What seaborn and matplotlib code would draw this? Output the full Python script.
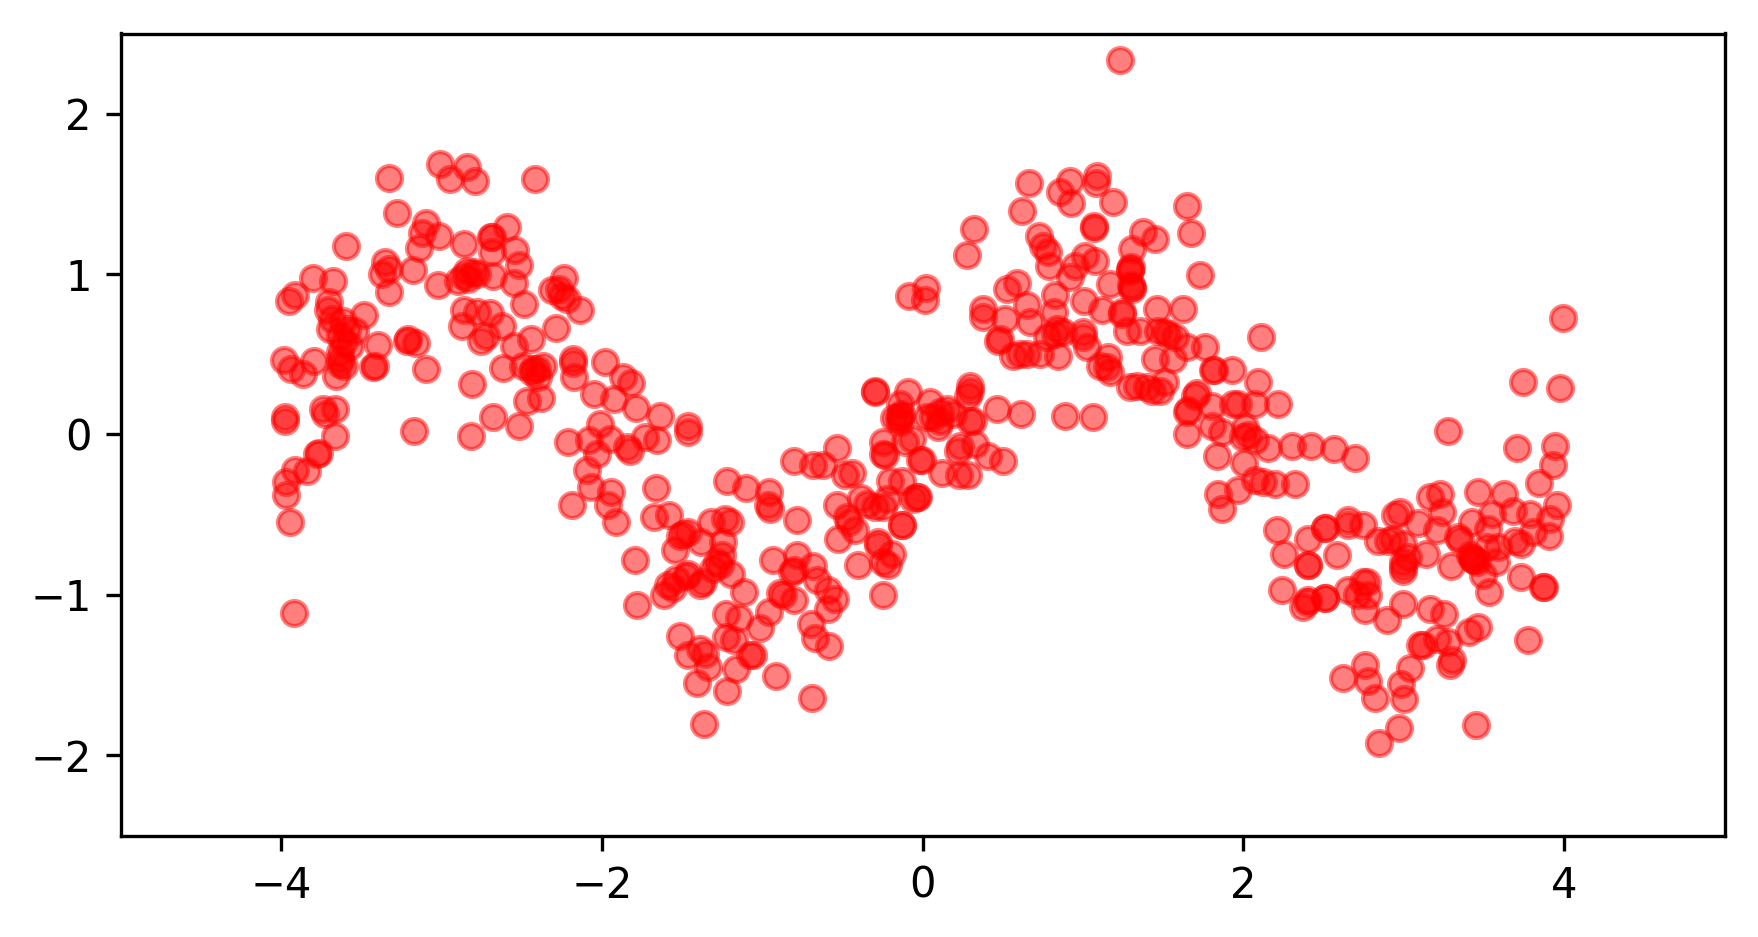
"""
plot.py
Noisy sine scatter, values read off the reference picture.
"""

import matplotlib
matplotlib.use("Agg")
import matplotlib.pyplot as plt
import numpy as np
import seaborn as sns

LEFT_X = [
    -3.33, -3.01, -2.84, -2.95, -2.79, -2.42, -3.276, -3.10, -3.124, -3.014, -3.139, -2.86, -2.59, -2.688, -2.694,
    -2.542, -2.684, -2.515, -3.594, -3.353, -3.326, -3.374, -3.326, -3.176, -3.022, -2.896, -2.864, -2.833, -2.80,
    -2.844, -2.78, -2.678, -2.55, -2.485, -2.235, -2.314, -2.27, -2.25, -2.22, -2.138, -2.288, -2.86, -2.782, -2.70,
    -2.875, -2.626, -2.724, -2.757, -2.445, -2.547, -3.80, -3.675, -3.955, -3.914, -3.70, -3.71, -3.482, -3.685,
    -3.696, -3.613, -3.592, -3.54, -3.633, -3.612, -3.571, -3.395, -3.208, -3.218, -3.16, -3.982, -3.941, -3.862,
    -3.796, -3.633, -3.633, -3.633, -3.612, -3.658, -3.415, -3.426, -3.096, -2.811, -2.616, -2.49, -2.439, -2.408,
    -2.367, -2.398, -2.43, -2.179, -2.184, -2.176, -1.982, -1.868, -1.822, -2.05, -1.926, -1.789, -1.64, -1.463,
    -1.463, -2.47, -2.383, -2.677, -2.52, -2.82, -3.172, -3.743, -3.727, -3.664, -3.664, -3.976, -3.976, -3.768,
    -3.775, -3.914, -3.841, -3.97, -3.97, -3.949, -3.918, -2.012, -2.21, -2.079, -1.95, -1.846, -1.825, -1.732,
    -1.655, -2.029, -2.096, -2.07, -1.947, -1.96, -1.914, -2.186, -1.665, -1.677, -1.582, -1.494, -1.463, -1.515,
    -1.546, -1.38, -1.318, -1.796, -1.785, -1.615, -1.557, -1.588, -1.536, -1.474, -1.37, -1.39,
]
LEFT_Y = [
    1.60, 1.685, 1.665, 1.596, 1.58, 1.59, 1.38, 1.32, 1.254, 1.239, 1.16, 1.187, 1.295, 1.229, 1.233,
    1.15, 1.135, 1.056, 1.175, 1.077, 1.032, 1.0, 0.89, 1.025, 0.932, 0.959, 0.99, 0.969, 1.01,
    1.02, 1.0, 0.99, 0.944, 0.813, 0.973, 0.90, 0.907, 0.866, 0.845, 0.778, 0.664, 0.778, 0.762, 0.757,
    0.679, 0.679, 0.616, 0.585, 0.596, 0.554, 0.973, 0.959, 0.834, 0.87, 0.824, 0.778, 0.747, 0.72,
    0.658, 0.71, 0.658, 0.648, 0.616, 0.575, 0.554, 0.558, 0.596, 0.581, 0.568, 0.467, 0.41, 0.377,
    0.46, 0.513, 0.471, 0.44, 0.43, 0.367, 0.43, 0.423, 0.408, 0.315, 0.415, 0.43, 0.388, 0.41,
    0.43, 0.357, 0.41, 0.471, 0.446, 0.357, 0.454, 0.357, 0.32, 0.25, 0.222, 0.164, 0.118, 0.052,
    0.015, 0.207, 0.226, 0.108, 0.052, -0.01, 0.023, 0.156, 0.129, 0.156, -0.01, 0.108, 0.087, -0.114,
    -0.12, -0.224, -0.23, -0.297, -0.38, -0.546, -1.113, 0.066, -0.044, -0.037, -0.027, -0.079, -0.10, -0.017,
    -0.033, -0.12, -0.22, -0.328, -0.359, -0.438, -0.546, -0.438, -0.332, -0.515, -0.50, -0.618, -0.608, -0.63,
    -0.722, -0.67, -0.546, -0.78, -1.06, -1.0, -0.96, -0.94, -0.90, -0.88, -0.92, -0.94,
]

TROUGH_X = [
    -1.232, -1.205, -1.243, -1.253, -1.284, -1.263, -1.305, -1.195, -1.467, -1.114, -1.222,
    -1.101, -0.956, -0.962, -0.952, -0.785, -1.228, -1.149, -0.956, -1.018, -1.226, -1.176, -1.513, -1.388, -1.461,
    -1.357, -1.34, -1.164, -1.076, -1.056, -1.405, -1.218, -0.918, -0.688, -1.367, -0.935, -0.785, -0.806,
    -0.817, -0.682, -0.661, -0.588, -0.547, -0.588, -0.89, -0.869, -0.806, -0.696, -0.671, -0.582, -0.806, -0.686,
    -0.623, -0.532, -0.484, -0.443, -0.532, -0.384, -0.474, -0.463, -0.422, -0.53, -0.349, -0.297, -0.245, -0.224,
    -0.204, -0.131, -0.037, -0.058, -0.027, -0.131, -0.131, -0.276, -0.276, -0.193, -0.245, -0.214, -0.401, -0.245,
    -0.017, -0.006, -0.245, -0.245, -0.235, 0.119, 0.223, 0.285,
]
TROUGH_Y = [
    -0.525, -0.546, -0.67, -0.754, -0.795, -0.816, -0.836, -0.868, -0.868, -0.982, -0.293,
    -0.334, -0.36, -0.442, -0.463, -0.531, -1.117, -1.142, -1.106, -1.206, -1.264, -1.283, -1.258, -1.335, -1.372,
    -1.366, -1.449, -1.463, -1.376, -1.376, -1.548, -1.598, -1.505, -1.64, -1.802, -0.78, -0.753, -0.847,
    -0.857, -0.822, -0.909, -0.972, -1.023, -1.09, -0.99, -1.0, -1.03, -1.179, -1.268, -1.318, -0.166, -0.189,
    -0.193, -0.083, -0.251, -0.239, -0.442, -0.397, -0.515, -0.546, -0.598, -0.65, -0.432, -0.453, -0.453, -0.401,
    -0.287, -0.287, -0.39, -0.40, -0.39, -0.563, -0.563, -0.67, -0.691, -0.743, -0.795, -0.816, -0.812, -1.0,
    -0.158, -0.158, -0.048, -0.12, -0.13, -0.239, -0.251, -0.251,
]

PEAK_X = [
    1.232, 0.665, 0.919, 0.856, 0.925, 1.085, 1.081, 1.185, 0.621, 1.65, 1.673, 1.376, 1.449, 0.322, 0.276, 1.066,
    1.07, 0.725, 0.752, 0.783, 0.79, 1.303, 1.293, 1.29, 1.297, 1.303, 1.30, 1.308, 1.729, 1.012, 1.074, 0.95, 0.919,
    1.168, -0.085, 0.021, 0.015, 0.524, 0.586, 0.378, 0.378, 0.648, 0.669, 0.513, 0.825, 0.821, 1.008, 1.116, 1.241,
    1.241, 1.459, 1.621, 2.107, 0.482, 0.472, 0.565, 0.607, 0.648, 0.732, 0.846, 0.773, 0.835, 0.825, 0.877, 1.002,
    1.002, 1.023, 1.158, 1.106, 1.168, 1.147, 1.272, 1.355, 1.469, 1.511, 1.532, 1.573, 1.449, 1.563, 1.646, 1.76,
    1.812, 1.817, 1.926, 2.093, 2.217, 1.968, 1.937, 2.072, 1.708, 1.698, 1.293, 1.334, 1.428, 1.48, 1.511, 1.397,
    1.656, 1.646, 1.802, 1.646, 1.802, 1.864, 2.01, 2.0, 2.072, 2.03, 2.151, 2.30, 1.833, 2.005, 2.124, 2.072, 2.197,
    2.321, 1.843, 1.964, 1.868, -0.297, -0.30, -0.089, -0.141, -0.141, -0.135, -0.146, -0.141, -0.18, 0.046,
    0.108, 0.067, 0.15, 0.191, 0.108, 0.098, 0.025, 0.295, 0.285, 0.295, 0.461, 0.613, 0.887, 1.064, 0.295, 0.316,
    -0.069, -0.11, 0.222, 0.233, 0.326, 0.405, 0.499,
]
PEAK_Y = [
    2.333, 1.571, 1.582, 1.509, 1.443, 1.613, 1.571, 1.447, 1.391, 1.422, 1.256, 1.26, 1.218, 1.281, 1.119, 1.301,
    1.29, 1.235, 1.177, 1.135, 1.052, 1.156, 1.032, 1.02, 1.045, 0.917, 0.93, 0.905, 0.994, 1.115, 1.084, 1.052, 0.98,
    0.938, 0.866, 0.911, 0.839, 0.907, 0.944, 0.783, 0.731, 0.807, 0.70, 0.72, 0.87, 0.766, 0.834, 0.776, 0.762,
    0.751, 0.782, 0.782, 0.606, 0.596, 0.585, 0.492, 0.502, 0.502, 0.502, 0.488, 0.606, 0.658, 0.627, 0.637, 0.637,
    0.606, 0.544, 0.482, 0.43, 0.388, 0.42, 0.648, 0.648, 0.648, 0.637, 0.627, 0.606, 0.471, 0.471, 0.544, 0.544,
    0.405, 0.40, 0.403, 0.326, 0.191, 0.191, 0.191, 0.191, 0.26, 0.243, 0.295, 0.305, 0.274, 0.274, 0.326, 0.295,
    0.15, 0.139, 0.18, 0.0, 0.056, 0.014, 0.046, -0.016, -0.037, -0.006, -0.085, -0.07, -0.137, -0.176, -0.297, -0.286,
    -0.307, -0.307, -0.369, -0.349, -0.463, 0.264, 0.27, 0.264, 0.191, 0.118, 0.13, 0.105, 0.08, 0.10, 0.201,
    0.139, 0.108, 0.16, 0.13, 0.087, 0.046, 0.108, 0.274, 0.243, 0.305, 0.16, 0.129, 0.118, 0.108, 0.087, 0.087,
    -0.027, -0.048, -0.10, -0.07, -0.058, -0.135, -0.166,
]

RIGHT_X = [
    3.99, 3.745, 3.973, 3.277, 3.707, 3.942, 3.932, 3.842, 3.953, 3.911, 3.907, 3.79, 3.682, 3.807, 3.734, 3.693, 3.464,
    3.626, 3.553, 3.423, 3.527, 3.34, 3.35, 3.516, 3.589, 3.578, 3.433, 3.44, 3.428, 3.412, 3.454, 3.292, 3.491, 3.533,
    3.734, 3.87, 3.875, 3.776, 3.45, 3.163, 3.225, 3.236, 3.09, 3.209, 3.136, 2.976, 2.945, 2.841, 2.903, 2.934,
    2.997, 3.028, 2.997, 2.997, 2.993, 2.654, 2.654, 2.747, 2.508, 2.508, 2.40, 2.211, 2.253, 2.40, 2.40, 2.585, 2.238,
    2.373, 2.394, 2.404, 2.508, 2.508, 2.654, 2.706, 2.747, 2.768, 2.778, 2.758, 2.893, 2.997, 3.163, 3.252,
    3.464, 3.408, 3.101, 3.121, 3.204, 3.277, 3.298, 3.288, 3.038, 2.982, 3.0, 2.758, 2.623, 2.774, 2.82, 2.97,
    2.845, 2.421, 2.566, 2.695,
]
RIGHT_Y = [
    0.726, 0.325, 0.288, 0.02, -0.086, -0.069, -0.19, -0.304, -0.439, -0.526, -0.634, -0.495, -0.474, -0.609, -0.681,
    -0.661, -0.356, -0.37, -0.495, -0.547, -0.588, -0.64, -0.66, -0.702, -0.702, -0.796, -0.775, -0.78, -0.77, -0.754,
    -0.796, -0.82, -0.879, -0.982, -0.889, -0.95, -0.95, -1.279, -1.809, -0.387, -0.37, -0.484, -0.551, -0.598,
    -0.748, -0.484, -0.50, -0.661, -0.661, -0.654, -0.681, -0.765, -0.796, -0.827, -0.848, -0.536, -0.567, -0.567,
    -0.584, -0.584, -0.65, -0.598, -0.748, -0.816, -0.816, -0.754, -0.968, -1.076, -1.045, -1.034, -1.018, -1.018, -0.972,
    -1.003, -0.92, -0.92, -1.003, -1.097, -1.155, -1.055, -1.086, -1.117, -1.2, -1.231, -1.315, -1.315,
    -1.273, -1.294, -1.408, -1.439, -1.454, -1.557, -1.651, -1.439, -1.518, -1.537, -1.64, -1.829, -1.923, -0.069, -0.09,
    -0.148,
]

X_TICKS = [-4, -2, 0, 2, 4]
Y_TICKS = [-2, -1, 0, 1, 2]

x = np.array(LEFT_X + TROUGH_X + PEAK_X + RIGHT_X)
y = np.array(LEFT_Y + TROUGH_Y + PEAK_Y + RIGHT_Y)

fig = plt.figure(figsize=(1758 / 300, 937 / 300), dpi=300)
ax = fig.add_axes([121 / 1758, 1 - 835.5 / 937, (1724.5 - 121) / 1758, (835.5 - 33.5) / 937])
sns.scatterplot(x=x, y=y, color="red", edgecolor="red", alpha=0.5, s=36, linewidth=1, ax=ax)
ax.set_xlim(-5, 5)
ax.set_ylim(-2.5, 2.5)
ax.set_xticks(X_TICKS)
ax.set_yticks(Y_TICKS)

fig.savefig("out.png", dpi=300)
